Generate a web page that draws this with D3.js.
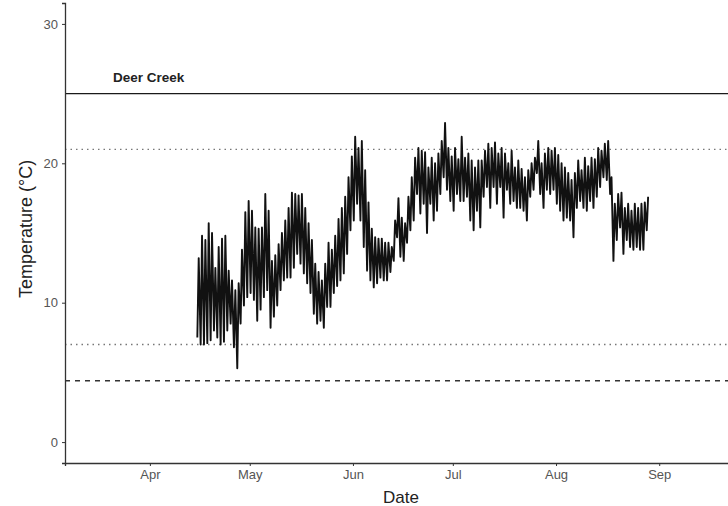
<!DOCTYPE html>
<html>
<head>
<meta charset="utf-8">
<script src="https://cdn.jsdelivr.net/npm/d3@7"></script>
<style>
  body { margin: 0; background: #fff; }
  svg { font-family: "Liberation Sans", Arial, sans-serif; display: block; }
  .axis path, .axis line { stroke: #333; }
  .axis text { fill: #555; font-size: 13px; }
</style>
</head>
<body>
<script>
// first day of record, then one max / min pair per day
const startDate = "2018-04-15";

const dailyMax = [
  13.2, 14.8, 14.5, 15.7, 15.0, 12.5, 14.0, 14.6, 14.8, 12.3,
  11.6, 10.9, 11.4, 13.8, 16.5, 17.3, 16.6, 15.4, 15.3, 15.4,
  17.8, 16.6, 13.0, 13.4, 14.2, 15.0, 15.9, 16.8, 17.9, 17.8,
  17.7, 17.8, 16.8, 15.7, 14.5, 12.8, 12.2, 11.6, 12.8, 14.3,
  13.8, 14.8, 16.0, 16.8, 17.6, 19.0, 20.5, 21.9, 21.1, 21.6,
  19.5, 17.2, 15.3, 14.7, 14.6, 14.6, 14.3, 14.3, 14.0, 15.9,
  17.5, 16.1, 15.7, 17.6, 19.0, 20.4, 21.1, 20.9, 20.8, 19.7,
  20.4, 20.0, 20.7, 21.6, 22.9, 21.1, 20.5, 21.1, 20.3, 21.9,
  20.4, 20.7, 20.2, 19.7, 20.2, 20.2, 20.9, 21.4, 21.1, 21.5,
  20.7, 21.1, 20.7, 20.0, 20.9, 19.7, 20.2, 19.6, 19.0, 19.5,
  20.0, 20.4, 21.6, 20.0, 20.7, 21.1, 20.9, 21.1, 20.6, 20.0,
  19.7, 19.3, 18.8, 19.3, 20.2, 19.5, 20.4, 19.8, 20.4, 20.3,
  21.1, 20.9, 21.4, 21.6, 19.0, 17.1, 17.8, 17.9, 16.8, 17.1,
  16.6, 17.1, 16.8, 17.1, 17.2, 17.6
];

const dailyMin = [
   7.5,  7.0,  7.0,  7.1,  7.3,  8.0,  7.5,  7.0,  7.2,  8.0,
   8.5,  6.8,  5.3,  8.5,  9.8, 10.4, 10.7, 10.2,  8.7,  9.5,
  10.4, 10.9,  8.2,  9.0,  9.8, 10.9, 11.6, 11.8, 11.8, 12.5,
  13.5, 12.8, 12.1, 11.4, 10.7,  9.2,  8.5,  8.7,  8.2,  9.7,
   9.7, 10.7, 11.2, 11.6, 12.1, 13.5, 15.2, 15.9, 17.1, 15.9,
  14.0, 12.3, 11.6, 11.1, 11.4, 11.8, 11.6, 11.6, 12.2, 13.0,
  14.7, 13.3, 13.0, 14.3, 15.2, 15.9, 17.8, 16.4, 17.1, 15.0,
  17.1, 15.9, 16.6, 17.8, 19.0, 18.1, 17.3, 16.6, 17.8, 17.3,
  17.3, 17.6, 15.9, 15.2, 16.6, 15.4, 17.6, 18.3, 16.8, 18.3,
  17.1, 18.3, 16.1, 18.1, 17.1, 17.3, 16.8, 16.8, 16.6, 15.9,
  17.6, 18.1, 19.3, 17.8, 16.8, 18.1, 17.8, 18.1, 17.1, 16.6,
  15.9, 16.1, 15.9, 14.7, 16.8, 17.3, 16.8, 16.6, 17.3, 16.8,
  17.6, 18.3, 19.0, 18.8, 17.8, 13.0, 14.5, 15.4, 13.5, 14.5,
  14.0, 13.8, 14.0, 13.8, 13.8, 15.2
];

// reference lines (°C)
const refSolid  = 25;
const refDotted = [21, 7];
const refDashed = 4.4;

const siteLabel = "Deer Creek";
const xTicks = ["2018-04-01", "2018-05-01", "2018-06-01", "2018-07-01", "2018-08-01", "2018-09-01"];
const yTicks = [0, 10, 20, 30];

const width = 728, height = 506;
const margin = { left: 65, top: 3, bottom: 43 };
const plotRight = 738;   // panel runs past the picture edge

const svg = d3.select("body").append("svg")
    .attr("width", width)
    .attr("height", height);

const parse = d3.timeParse("%Y-%m-%d");

const x = d3.scaleTime()
    .domain([new Date(2018, 2, 6, 12), new Date(2018, 8, 24, 16)])
    .range([margin.left, plotRight]);
const y = d3.scaleLinear()
    .domain([-1.5, 31.5])
    .range([height - margin.bottom, margin.top]);

// build the zig-zag series: minimum early morning, maximum mid afternoon
const t0 = parse(startDate);
const series = [];
dailyMax.forEach(function(mx, i) {
    let day = d3.timeDay.offset(t0, i);
    series.push({ t: d3.timeHour.offset(day, 6),  v: dailyMin[i] });
    series.push({ t: d3.timeHour.offset(day, 16), v: mx });
});

// reference lines
const x0 = margin.left, x1 = plotRight;
svg.append("line")
    .attr("x1", x0).attr("x2", x1)
    .attr("y1", y(refSolid)).attr("y2", y(refSolid))
    .attr("stroke", "#1a1a1a").attr("stroke-width", 1.3);
svg.selectAll(".dotted").data(refDotted).enter().append("line")
    .attr("class", "dotted")
    .attr("x1", x0).attr("x2", x1)
    .attr("y1", d => y(d)).attr("y2", d => y(d))
    .attr("stroke", "#777").attr("stroke-width", 1.3)
    .attr("stroke-dasharray", "1.5,4");
svg.append("line")
    .attr("x1", x0).attr("x2", x1)
    .attr("y1", y(refDashed)).attr("y2", y(refDashed))
    .attr("stroke", "#333").attr("stroke-width", 1.5)
    .attr("stroke-dasharray", "5,5");

// temperature trace
svg.append("path")
    .datum(series)
    .attr("fill", "none")
    .attr("stroke", "#111")
    .attr("stroke-width", 1.9)
    .attr("stroke-linejoin", "round")
    .attr("d", d3.line().x(d => x(d.t)).y(d => y(d.v)));

// axes
svg.append("g").attr("class", "x axis")
    .attr("transform", "translate(0," + (height - margin.bottom) + ")")
    .call(d3.axisBottom(x)
        .tickValues(xTicks.map(parse))
        .tickFormat(d3.timeFormat("%b"))
        .tickSizeOuter(0).tickSize(3).tickPadding(4))
    .call(g => g.select(".domain").attr("stroke-width", 1.3));

svg.append("g").attr("class", "y axis")
    .attr("transform", "translate(" + margin.left + ",0)")
    .call(d3.axisLeft(y)
        .tickValues(yTicks)
        .tickSizeOuter(0).tickSize(3).tickPadding(4))
    .call(g => g.select(".domain").attr("stroke-width", 1.3));

// site label
svg.append("text")
    .attr("x", 113).attr("y", 82)
    .style("font-size", "13.5px")
    .style("fill", "#222")
    .style("font-weight", "bold")
    .text(siteLabel);

// axis titles
svg.append("text")
    .attr("x", 401).attr("y", 503)
    .style("font-size", "17px")
    .style("text-anchor", "middle")
    .style("fill", "#222")
    .text("Date");

svg.append("text")
    .attr("transform", "translate(32,229) rotate(-90)")
    .style("font-size", "18px")
    .style("text-anchor", "middle")
    .style("fill", "#222")
    .text("Temperature (°C)");
</script>
</body>
</html>
